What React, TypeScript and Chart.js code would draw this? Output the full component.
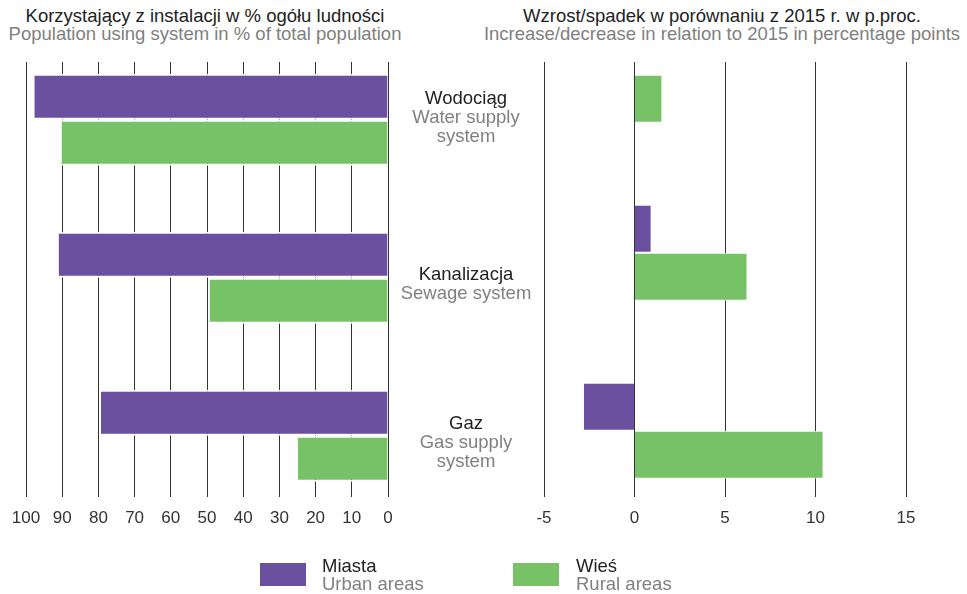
import React, { useEffect, useRef } from "react";
import { Chart, registerables } from "chart.js";

Chart.register(...registerables);

const categoriesPl = ["Wodociąg", "Kanalizacja", "Gaz"];
const categoriesEn = [["Water supply", "system"], ["Sewage system"], ["Gas supply", "system"]];
const urbanShare = [97.7, 91.0, 79.3];
const ruralShare = [90.2, 49.3, 24.9];
const urbanChange = [0.0, 0.9, -2.8];
const ruralChange = [1.5, 6.2, 10.4];
const shareTicks = [0, 10, 20, 30, 40, 50, 60, 70, 80, 90, 100];
const changeTicks = [-5, 0, 5, 10, 15];

const titleLeftPl = "Korzystający z instalacji w % ogółu ludności";
const titleLeftEn = "Population using system in % of total population";
const titleRightPl = "Wzrost/spadek w porównaniu z 2015 r. w p.proc.";
const titleRightEn = "Increase/decrease in relation to 2015 in percentage points";
const legendPl = ["Miasta", "Wieś"];
const legendEn = ["Urban areas", "Rural areas"];

const PURPLE = "#6b50a0";
const GREEN = "#77c267";
const FONT = "'Liberation Sans', Arial, sans-serif";
const DARK = "#222222";
const GREY = "#808080";

function buildConfig(
  urban: number[],
  rural: number[],
  ticks: number[],
  reverse: boolean,
  yMin: number,
  yMax: number,
  thickness: number,
  gap: number,
  pad: { left: number; right: number; top: number },
  axisHeight: number
): any {
  const mk = (vals: number[], color: string, label: string) => ({
    label,
    data: vals.map((v, i) => ({ x: v, y: i })),
    backgroundColor: color,
    borderColor: "#ffffff",
    borderWidth: { top: gap, bottom: gap, left: 0, right: 0 },
    borderSkipped: false,
    inflateAmount: 0,
    barThickness: thickness,
  });
  return {
    type: "bar",
    data: {
      datasets: [mk(urban, PURPLE, legendPl[0]), mk(rural, GREEN, legendPl[1])],
    },
    options: {
      indexAxis: "y",
      animation: false,
      responsive: false,
      maintainAspectRatio: false,
      events: [],
      layout: { padding: { left: pad.left, right: pad.right, top: pad.top, bottom: 0 } },
      plugins: { legend: { display: false }, tooltip: { enabled: false }, title: { display: false } },
      scales: {
        x: {
          type: "linear",
          position: "bottom",
          min: ticks[0],
          max: ticks[ticks.length - 1],
          reverse,
          offset: false,
          afterBuildTicks: (scale: any) => {
            scale.ticks = ticks.map((v) => ({ value: v }));
          },
          afterFit: (scale: any) => {
            scale.height = axisHeight;
          },
          ticks: {
            color: "#333333",
            font: { family: FONT, size: 17 },
            padding: 11,
            maxRotation: 0,
            autoSkip: false,
          },
          grid: { color: "#333333", lineWidth: 1, drawTicks: false, offset: false },
          border: { display: false },
        },
        y: {
          type: "linear",
          display: false,
          offset: false,
          grid: { offset: false },
          min: yMin,
          max: yMax,
          reverse: true,
        },
      },
    },
  };
}

function BarPanel(props: { cfg: any; left: number; width: number; height: number }) {
  const ref = useRef<HTMLCanvasElement | null>(null);
  useEffect(() => {
    if (!ref.current) return;
    const chart = new Chart(ref.current, props.cfg);
    return () => chart.destroy();
  }, []);
  return (
    <canvas
      ref={ref}
      width={props.width}
      height={props.height}
      style={{ position: "absolute", left: props.left, top: 0, width: props.width, height: props.height }}
    />
  );
}

export default function App() {
  const leftCfg = buildConfig(urbanShare, ruralShare, shareTicks, true, -0.365, 2.387, 46, 2, { left: 26, right: 52, top: 62 }, 63);
  const rightCfg = buildConfig(urbanChange, ruralChange, changeTicks, false, -0.0713, 2.3725, 48, 1, { left: 44, right: 61, top: 62 }, 63);
  const labelTops = [88, 264, 413];
  const text = (s: string, color: string) => <div style={{ color }}>{s}</div>;
  return (
    <div
      style={{
        position: "absolute",
        left: 0,
        top: 0,
        width: 967,
        height: 594,
        background: "#ffffff",
        fontFamily: FONT,
        fontSize: 18.5,
        lineHeight: "18px",
        overflow: "hidden",
      }}
    >
      <div style={{ position: "absolute", left: -10, width: 430, top: 7, textAlign: "center", whiteSpace: "nowrap" }}>
        {text(titleLeftPl, DARK)}
        {text(titleLeftEn, GREY)}
      </div>
      <div style={{ position: "absolute", left: 462, width: 520, top: 7, textAlign: "center", whiteSpace: "nowrap" }}>
        {text(titleRightPl, DARK)}
        {text(titleRightEn, GREY)}
      </div>
      <BarPanel cfg={leftCfg} left={0} width={440} height={560} />
      <BarPanel cfg={rightCfg} left={500} width={467} height={560} />
      {categoriesPl.map((c, i) => (
        <div
          key={c}
          style={{ position: "absolute", left: 381, width: 170, top: labelTops[i], textAlign: "center", lineHeight: "19px", whiteSpace: "nowrap" }}
        >
          {text(c, DARK)}
          {categoriesEn[i].map((l) => (
            <div key={l} style={{ color: GREY }}>{l}</div>
          ))}
        </div>
      ))}
      {[0, 1].map((i) => (
        <React.Fragment key={i}>
          <div
            style={{
              position: "absolute",
              left: i === 0 ? 260 : 513,
              top: 563,
              width: 46,
              height: 23,
              background: i === 0 ? PURPLE : GREEN,
            }}
          />
          <div style={{ position: "absolute", left: i === 0 ? 322 : 576, top: 557, lineHeight: "18px", whiteSpace: "nowrap" }}>
            {text(legendPl[i], DARK)}
            {text(legendEn[i], GREY)}
          </div>
        </React.Fragment>
      ))}
    </div>
  );
}
